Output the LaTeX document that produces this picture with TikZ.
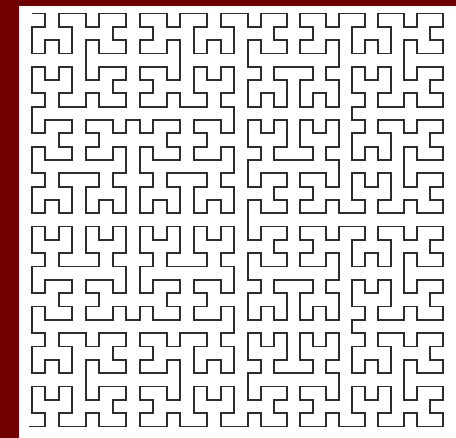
\documentclass[tikz,border=0pt]{standalone}
\definecolor{frame}{RGB}{112,0,0}
\definecolor{ink}{RGB}{45,45,45}
\tikzset{curve/.style={draw=ink, line width=1.7pt, line join=miter}}
\newcount\hcd \newcount\hct \newcount\hcx \newcount\hcy \newcount\hcs
\newcount\hcrx \newcount\hcry \newcount\hctmp
\def\hstep{%
    \hctmp=\hct \divide\hctmp by 2
    \hcrx=\hctmp \divide\hcrx by 2 \multiply\hcrx by 2
    \hcrx=\numexpr\hctmp-\hcrx\relax
    \hctmp=\hct \divide\hctmp by 2 \multiply\hctmp by 2
    \hctmp=\numexpr\hct-\hctmp\relax
    \ifnum\hctmp=\hcrx \hcry=0 \else \hcry=1 \fi
    \ifnum\hcry=0
      \ifnum\hcrx=1
        \hcx=\numexpr\hcs-1-\hcx\relax
        \hcy=\numexpr\hcs-1-\hcy\relax
      \fi
      \hctmp=\hcx \hcx=\hcy \hcy=\hctmp
    \fi
    \advance\hcx by \numexpr\hcs*\hcrx\relax
    \advance\hcy by \numexpr\hcs*\hcry\relax
    \divide\hct by 4
    \multiply\hcs by 2 }
\def\hilbertxy{% uses \hcd, sets \hcx,\hcy (n=32)
  \hct=\hcd \hcx=0 \hcy=0 \hcs=1
  \hstep\hstep\hstep\hstep\hstep}
\gdef\hpath{(29,11.4)}
\hcd=1
\loop
  \hilbertxy
  \ifnum\hcy>16
    \edef\hpx{247.7+13.0*(\the\hcy-16)}%
  \else
    \edef\hpx{31.7+13.5*\the\hcy}%
  \fi
  \xdef\hpath{\hpath -- ({\hpx},{11.4+13.33*\the\hcx})}
  \advance\hcd by 1
\ifnum\hcd<1024 \repeat
\begin{document}
\begin{tikzpicture}[x=1pt,y=1pt]
\useasboundingbox (0,0) rectangle (456,438);
\fill[frame] (0,0) rectangle (456,438);
\fill[white] (19,0) rectangle (456,432);
\draw[curve] \hpath;
\end{tikzpicture}
\end{document}
